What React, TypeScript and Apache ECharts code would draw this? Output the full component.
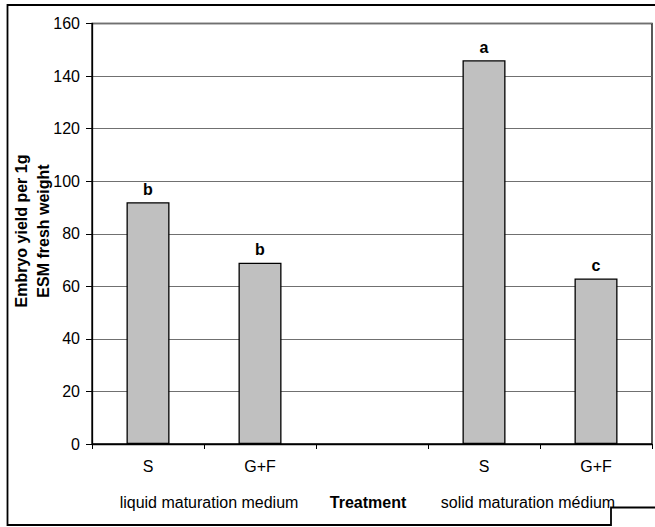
import React, { useEffect, useRef } from "react";
import * as echarts from "echarts";

const categories = ["S", "G+F", "", "S", "G+F"];
const values: (number | null)[] = [92, 69, 0, 146, 63];
const letters = ["b", "b", "", "a", "c"];
const yTicks = { min: 0, max: 160, interval: 20 };
const groupLabels = ["liquid maturation medium", "Treatment", "solid maturation médium"];
const yTitle = "Embryo yield per 1g\nESM fresh weight";

export default function App() {
  const ref = useRef<HTMLDivElement>(null);
  useEffect(() => {
    if (!ref.current) return;
    const chart = echarts.init(ref.current, null, { renderer: "svg" });
    const font = "'Liberation Sans', Arial, sans-serif";
    const fs = 16;
    chart.setOption({
      animation: false,
      backgroundColor: "#fff",
      textStyle: { fontFamily: font },
      grid: {
        left: 92,
        top: 23.5,
        right: 3,
        bottom: 83,
        show: true,
        borderColor: "#000",
        borderWidth: 1.3,
        backgroundColor: "transparent",
      },
      xAxis: {
        type: "category",
        data: categories,
        boundaryGap: true,
        axisLine: { lineStyle: { color: "#000", width: 1.3 } },
        axisTick: { show: true, length: 5, lineStyle: { color: "#000" } },
        axisLabel: { color: "#000", fontSize: fs, margin: 14, fontFamily: font },
        splitLine: { show: false },
      },
      yAxis: {
        type: "value",
        min: yTicks.min,
        max: yTicks.max,
        interval: yTicks.interval,
        axisLine: { show: true, lineStyle: { color: "#000", width: 1.3 } },
        axisTick: { show: true, length: 6, lineStyle: { color: "#000" } },
        axisLabel: { color: "#000", fontSize: fs, margin: 12, fontFamily: font },
        splitLine: { show: true, lineStyle: { color: "#707070", width: 1 } },
      },
      series: [
        {
          type: "bar",
          data: values.map((v, i) => (categories[i] === "" ? null : v)),
          barWidth: 43,
          itemStyle: { color: "#c0c0c0", borderColor: "#000", borderWidth: 1.3 },
          label: {
            show: true,
            position: "top",
            distance: 5,
            color: "#000",
            fontWeight: "bold",
            fontSize: fs,
            fontFamily: font,
            formatter: (p: any) => letters[p.dataIndex],
          },
        },
      ],
      graphic: [
        {
          type: "polyline",
          shape: {
            points: [
              [655, 5],
              [7.5, 5],
              [7.5, 525],
              [611, 525],
              [611, 507.5],
              [655, 507.5],
            ],
          },
          style: { stroke: "#000", lineWidth: 1.8, fill: "none" },
          silent: true,
        },
        {
          type: "text",
          x: 32,
          y: 231,
          rotation: Math.PI / 2,
          style: {
            text: yTitle,
            fontSize: fs,
            fontWeight: "bold",
            fontFamily: font,
            fill: "#000",
            align: "center",
            verticalAlign: "middle",
            lineHeight: 22,
          },
        },
        {
          type: "text",
          x: 209,
          y: 502,
          style: { text: groupLabels[0], fontSize: fs, fontFamily: font, fill: "#000", align: "center", verticalAlign: "middle" },
        },
        {
          type: "text",
          x: 368,
          y: 502,
          style: { text: groupLabels[1], fontSize: fs, fontWeight: "bold", fontFamily: font, fill: "#000", align: "center", verticalAlign: "middle" },
        },
        {
          type: "text",
          x: 528,
          y: 502,
          style: { text: groupLabels[2], fontSize: fs, fontFamily: font, fill: "#000", align: "center", verticalAlign: "middle" },
        },
      ],
    });
    return () => chart.dispose();
  }, []);
  return <div ref={ref} style={{ width: 655, height: 527, position: "absolute", left: 0, top: 0 }} />;
}
